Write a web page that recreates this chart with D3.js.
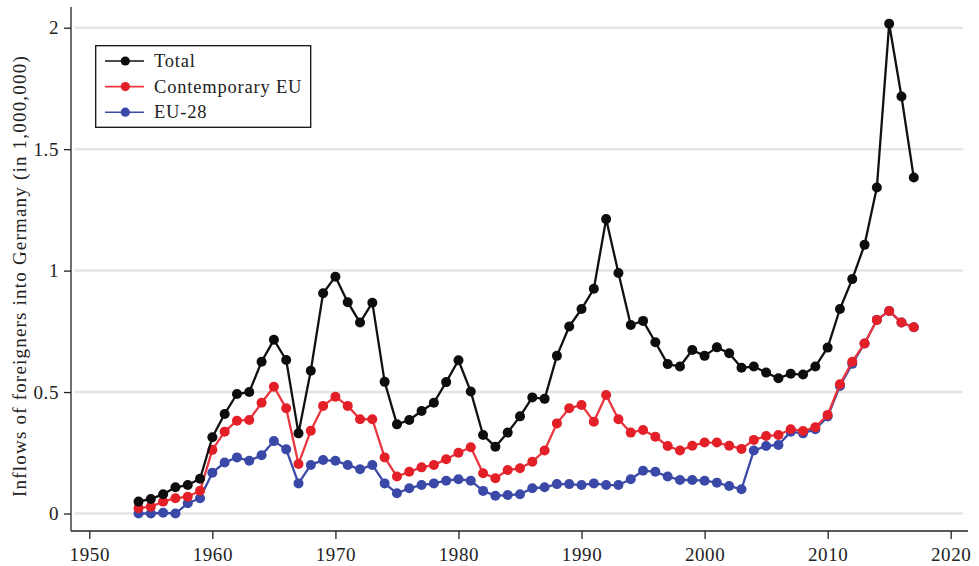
<!DOCTYPE html>
<html>
<head>
<meta charset="utf-8">
<script src="https://cdn.jsdelivr.net/npm/d3@7"></script>
<style>
  html, body { margin: 0; padding: 0; background: #fff; }
  svg { display: block; }
  text { font-family: "Liberation Serif", "Times New Roman", serif; fill: #222; }
</style>
</head>
<body>
<svg id="chart" width="979" height="566"></svg>
<script>
// ---- Data ----
const years = d3.range(1954, 2018);

const total = [
  0.049, 0.060, 0.079, 0.108, 0.117, 0.143, 0.314, 0.410, 0.492, 0.500,
  0.625, 0.715, 0.632, 0.330, 0.588, 0.907, 0.975, 0.870, 0.786, 0.868,
  0.542, 0.367, 0.385, 0.422, 0.456, 0.541, 0.631, 0.502, 0.323, 0.275,
  0.333, 0.400, 0.478, 0.472, 0.649, 0.770, 0.842, 0.925, 1.212, 0.990,
  0.776, 0.793, 0.705, 0.615, 0.605, 0.673, 0.649, 0.684, 0.660, 0.600,
  0.605, 0.580, 0.557, 0.575, 0.572, 0.605, 0.683, 0.842, 0.965, 1.106,
  1.342, 2.016, 1.717, 1.383
];

const contemporaryEU = [
  0.022, 0.028, 0.049, 0.063, 0.069, 0.094, 0.262, 0.337, 0.382, 0.385,
  0.456, 0.522, 0.433, 0.204, 0.341, 0.443, 0.481, 0.443, 0.388, 0.388,
  0.231, 0.152, 0.172, 0.190, 0.200, 0.223, 0.250, 0.273, 0.166, 0.145,
  0.179, 0.186, 0.213, 0.259, 0.371, 0.433, 0.447, 0.378, 0.488, 0.388,
  0.333, 0.344, 0.316, 0.278, 0.259, 0.279, 0.292, 0.292, 0.279, 0.266,
  0.303, 0.319, 0.323, 0.347, 0.340, 0.355, 0.406, 0.532, 0.625, 0.700,
  0.797, 0.834, 0.786, 0.767
];

const eu28 = [
  0.000, 0.000, 0.003, 0.000, 0.042, 0.063, 0.168, 0.210, 0.231, 0.217,
  0.240, 0.298, 0.264, 0.124, 0.200, 0.220, 0.217, 0.200, 0.182, 0.200,
  0.124, 0.083, 0.104, 0.117, 0.124, 0.135, 0.141, 0.135, 0.093, 0.073,
  0.076, 0.079, 0.104, 0.108, 0.121, 0.121, 0.117, 0.124, 0.117, 0.117,
  0.141, 0.176, 0.172, 0.152, 0.138, 0.138, 0.135, 0.127, 0.113, 0.100,
  0.259, 0.278, 0.282, 0.337, 0.330, 0.347, 0.399, 0.525, 0.616, 0.700,
  0.797, 0.834, 0.786, 0.767
];

const seriesNames = ["Total", "Contemporary EU", "EU-28"];
const xTicks = [1950, 1960, 1970, 1980, 1990, 2000, 2010, 2020];
const yTicks = [0, 0.5, 1, 1.5, 2];
const yTickLabels = ["0", "0.5", "1", "1.5", "2"];
const yTitle = "Inflows of foreigners into Germany (in 1,000,000)";

// ---- Styles ----
const styles = {
  "Total":           { line: "#111111", dot: "#0d0d0d" },
  "Contemporary EU": { line: "#e8363e", dot: "#e31f27" },
  "EU-28":           { line: "#3d4aa6", dot: "#3a49a8" }
};

const svg = d3.select("#chart");

const x = d3.scaleLinear().domain([1950, 2020]).range([89.3, 950.7]);
const y = d3.scaleLinear().domain([0, 2]).range([513.5, 27.7]);

const axisX0 = 71, axisY0 = 531;

// gridlines
svg.append("g").selectAll("line").data(yTicks).join("line")
  .attr("x1", 75).attr("x2", 963)
  .attr("y1", d => y(d)).attr("y2", d => y(d))
  .attr("stroke", "#e4e4e4").attr("stroke-width", 2.5);

// Y axis
const yAxis = d3.axisLeft(y).tickValues(yTicks)
  .tickFormat((d, i) => yTickLabels[i]).tickSize(7).tickSizeOuter(0).tickPadding(5);
const gy = svg.append("g").attr("transform", `translate(${axisX0},0)`).call(yAxis);
gy.select(".domain").remove();
gy.selectAll(".tick line").attr("stroke", "#222").attr("stroke-width", 1.3);
gy.selectAll(".tick text").attr("font-size", 19).attr("letter-spacing", 0.6)
  .style("font-family", '"Liberation Serif", serif').attr("fill", "#222");
svg.append("line").attr("x1", axisX0).attr("x2", axisX0).attr("y1", 7).attr("y2", axisY0)
  .attr("stroke", "#222").attr("stroke-width", 1.3);

// X axis
const xAxis = d3.axisBottom(x).tickValues(xTicks).tickFormat(d3.format("d"))
  .tickSize(8).tickSizeOuter(0).tickPadding(9);
const gx = svg.append("g").attr("transform", `translate(0,${axisY0})`).call(xAxis);
gx.select(".domain").remove();
gx.selectAll(".tick line").attr("stroke", "#222").attr("stroke-width", 1.3);
gx.selectAll(".tick text").attr("font-size", 19).attr("letter-spacing", 0.6)
  .style("font-family", '"Liberation Serif", serif').attr("fill", "#222");
svg.append("line").attr("x1", axisX0).attr("x2", 968).attr("y1", axisY0).attr("y2", axisY0)
  .attr("stroke", "#222").attr("stroke-width", 1.3);

// Y title
svg.append("text")
  .attr("transform", "translate(26,276) rotate(-90)")
  .attr("text-anchor", "middle")
  .attr("font-size", 19).attr("letter-spacing", 1.2)
  .text(yTitle);

// series (draw order: EU-28, Contemporary EU, Total)
const data = {
  "Total": total,
  "Contemporary EU": contemporaryEU,
  "EU-28": eu28
};
const line = d3.line().x(d => x(d[0])).y(d => y(d[1]));

["EU-28", "Contemporary EU", "Total"].forEach(name => {
  const pts = years.map((yr, i) => [yr, data[name][i]]);
  const g = svg.append("g");
  g.append("path").datum(pts).attr("d", line)
    .attr("fill", "none").attr("stroke", styles[name].line)
    .attr("stroke-width", 2.3).attr("stroke-linejoin", "round");
  g.selectAll("circle").data(pts).join("circle")
    .attr("cx", d => x(d[0])).attr("cy", d => y(d[1])).attr("r", 5)
    .attr("fill", styles[name].dot);
});

// Legend
const lg = svg.append("g");
lg.append("rect").attr("x", 95.7).attr("y", 45.7).attr("width", 215).attr("height", 81.6)
  .attr("fill", "#fff").attr("stroke", "#111").attr("stroke-width", 1.3);
seriesNames.forEach((name, i) => {
  const cy = 61 + i * 25.6;
  lg.append("line").attr("x1", 105).attr("x2", 144).attr("y1", cy).attr("y2", cy)
    .attr("stroke", styles[name].line).attr("stroke-width", 1.6);
  lg.append("circle").attr("cx", 125.3).attr("cy", cy).attr("r", 4.6).attr("fill", styles[name].dot);
  lg.append("text").attr("x", 154).attr("y", cy).attr("dy", "0.33em")
    .attr("font-size", 18.5).attr("letter-spacing", 0.8).text(name);
});
</script>
</body>
</html>
